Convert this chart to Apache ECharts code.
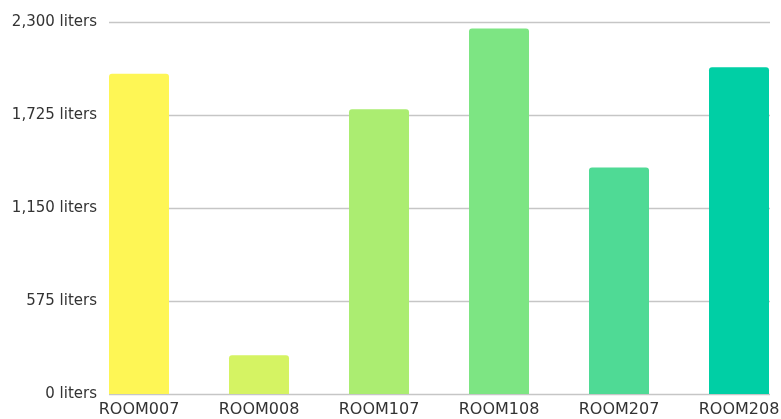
<!DOCTYPE html>
<html>
<head>
<meta charset="utf-8">
<script src="https://cdn.jsdelivr.net/npm/echarts@6/dist/echarts.min.js"></script>
<style>
  html, body { margin: 0; padding: 0; background: #fff; }
  #chart { width: 781px; height: 419px; }
</style>
</head>
<body>
<div id="chart"></div>
<script>
// room names and water usage (liters)
var rooms = ['ROOM007', 'ROOM008', 'ROOM107', 'ROOM108', 'ROOM207', 'ROOM208'];
var liters = [1980, 240, 1760, 2260, 1400, 2020];
var barColors = ['#FEF655', '#D5F363', '#ABED71', '#7DE583', '#4FDA95', '#00CFA5'];
var yTicks = [0, 575, 1150, 1725, 2300];

var font = '"DejaVu Sans", sans-serif';
var myChart = echarts.init(document.getElementById('chart'));

myChart.setOption({
  animation: false,
  grid: [
    // bars: 6 bands of 120px, may run past the canvas edge
    { left: 79, width: 720, top: 22, bottom: 25, outerBoundsMode: 'none' },
    // gridlines + y labels
    { left: 109, right: 11, top: 22, bottom: 25, outerBoundsMode: 'none' }
  ],
  xAxis: [
    {
      type: 'category', gridIndex: 0, data: rooms,
      axisLine: { show: false }, axisTick: { show: false },
      axisLabel: { color: '#333', fontSize: 16, fontFamily: font, margin: 8, interval: 0 }
    },
    { type: 'category', gridIndex: 1, data: rooms, show: false }
  ],
  yAxis: [
    { type: 'value', gridIndex: 0, min: 0, max: yTicks[4], interval: 575, show: false },
    {
      type: 'value', gridIndex: 1, min: 0, max: yTicks[4], interval: 575,
      axisLine: { show: false }, axisTick: { show: false },
      splitLine: { lineStyle: { color: '#c6c6c6', width: 1.3 } },
      axisLabel: {
        color: '#333', fontSize: 15, fontFamily: font, margin: 12,
        formatter: function (v) { return v.toLocaleString('en-US') + ' liters'; }
      }
    }
  ],
  series: [{
    type: 'bar',
    xAxisIndex: 0, yAxisIndex: 0,
    barWidth: 60,
    data: liters.map(function (v, i) {
      return { value: v, itemStyle: { color: barColors[i], borderRadius: [3, 3, 0, 0] } };
    })
  }]
});
</script>
</body>
</html>
